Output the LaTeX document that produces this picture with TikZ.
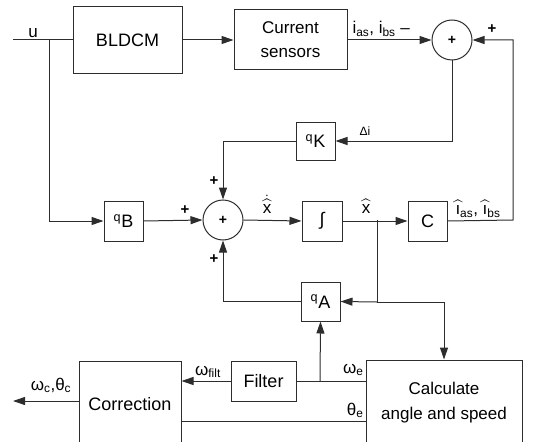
\documentclass[tikz,border=0pt]{standalone}
\usepackage{amsmath}
\usepackage{fontspec}
\setmainfont{Liberation Sans}
\usetikzlibrary{arrows.meta, positioning, calc}
\definecolor{linegray}{RGB}{45, 45, 45}

\begin{document}
\begin{tikzpicture}[x=1pt, y=-1pt, >={Triangle[length=12pt, width=8pt]}, line width=1pt,
    block/.style={rectangle, draw=linegray, line width=1pt, minimum width=39pt, minimum height=39pt, inner sep=1pt, align=center, font=\fontsize{18}{21}\selectfont},
    sumnode/.style={circle, draw=linegray, line width=1pt, minimum size=40pt, inner sep=0pt, font=\fontsize{14}{14}\selectfont\bfseries},
    lbl/.style={inner sep=0pt, font=\fontsize{17}{19}\selectfont},
    sgn/.style={inner sep=0pt, font=\fontsize{15}{15}\selectfont\bfseries}]
    \useasboundingbox (0,0) rectangle (537,441);
    \clip (0,0) rectangle (537,441);

    % blocks
    \node[block, minimum width=109pt, minimum height=67pt] (bldcm) at (127.5,40) {BLDCM};
    \node[block, minimum width=113pt, minimum height=60pt, font=\fontsize{17}{24}\selectfont] (sens) at (290.5,40) {Current\\sensors};
    \node[sumnode] (sumtop) at (452,40) {+};
    \node[block, minimum height=38pt] (qk) at (315.5,141) {\textsuperscript{q}K};
    \node[sumnode] (summid) at (223,220) {+};
    \node[block, minimum height=40pt] (qb) at (123.5,221) {\textsuperscript{q}B};
    \node[block, minimum width=40pt, minimum height=40pt] (integ) at (322,221) {∫};
    \node[block, minimum height=40pt] (cblk) at (427.5,221) {C};
    \node[block] (qa) at (320.5,301.5) {\textsuperscript{q}A};
    \node[block, minimum width=65pt, minimum height=40pt] (filter) at (263.5,381) {Filter};
    \node[block, minimum width=102pt, minimum height=86pt] (corr) at (130,404) {Correction};
    \node[block, minimum width=156pt, minimum height=86pt, font=\fontsize{17}{25}\selectfont] (calc) at (444,403) {Calculate\\angle and speed};

    % branch points
    \coordinate (uin) at (13,40);
    \coordinate (ubr) at (49,40);
    \coordinate (fb) at (513,220);
    \coordinate (xbr) at (377,220);
    \coordinate (xdn) at (377,302);
    \coordinate (wbr) at (320,381);
    \coordinate (th) at (300,421);
    \coordinate (out) at (13,401);

    % connectors
    \draw[linegray] (uin) -- (bldcm.west);
    \draw[linegray, ->] (ubr) |- (qb.west);
    \draw[linegray, ->] (bldcm.east) -- (sens.west);
    \draw[linegray, ->] (sens.east) -- (sumtop.west);
    \draw[linegray, ->] (cblk.east) -- (fb) |- (sumtop.east);
    \draw[linegray, ->] (sumtop.south) |- (qk.east);
    \draw[linegray, ->] (qk.west) -| (summid.north);
    \draw[linegray, ->] (qb.east) -- (summid.west);
    \draw[linegray, ->] (summid.east) -- (integ.west);
    \draw[linegray, ->] (integ.east) -- (cblk.west);
    \draw[linegray] (xbr) -- (xdn);
    \draw[linegray, ->] (xdn) -- (qa.east);
    \draw[linegray, ->] (xdn) -| (calc.north);
    \draw[linegray, ->] (qa.west) -| (summid.south);
    \draw[linegray] (calc.west |- wbr) -- (filter.east);
    \draw[linegray, ->] (wbr) -- (qa.south);
    \draw[linegray, ->] (filter.west) -- (filter.west -| corr.east);
    \draw[linegray] (calc.west |- th) -- (corr.east |- th);
    \draw[linegray, ->] (corr.west |- out) -- (out);

    % signal labels
    \node[lbl, anchor=base] (lu) at (33,37.5) {u};
    \node[lbl, anchor=base west] (lisens) at (352,33.5) {i\textsubscript{as}, i\textsubscript{bs} –};
    \node[sgn] (ptop) at (492,29) {+};
    \node[lbl, anchor=base west, font=\fontsize{12}{12}\selectfont] (ldi) at (359,135) {Δi};
    \node[sgn] (pk) at (214,181) {+};
    \node[sgn] (pb) at (185,210) {+};
    \node[sgn] (pa) at (214,259) {+};
    \node[lbl, anchor=base] (lxdot) at (267,213) {$\dot{\widehat{\text{x}}}$};
    \node[lbl, anchor=base] (lxhat) at (366,213) {$\widehat{\text{x}}$};
    \node[lbl, anchor=base west] (lihat) at (455,214.5) {$\widehat{\text{\i}}$\textsubscript{as}, $\widehat{\text{\i}}$\textsubscript{bs}};
    \node[lbl, anchor=base] (lwf) at (208,375) {ω\textsubscript{filt}};
    \node[lbl, anchor=base east] (lwe) at (364,373) {ω\textsubscript{e}};
    \node[lbl, anchor=base east] (lte) at (364,415) {θ\textsubscript{e}};
    \node[lbl, anchor=base] (lwc) at (51,390) {ω\textsubscript{c},θ\textsubscript{c}};
\end{tikzpicture}
\end{document}
